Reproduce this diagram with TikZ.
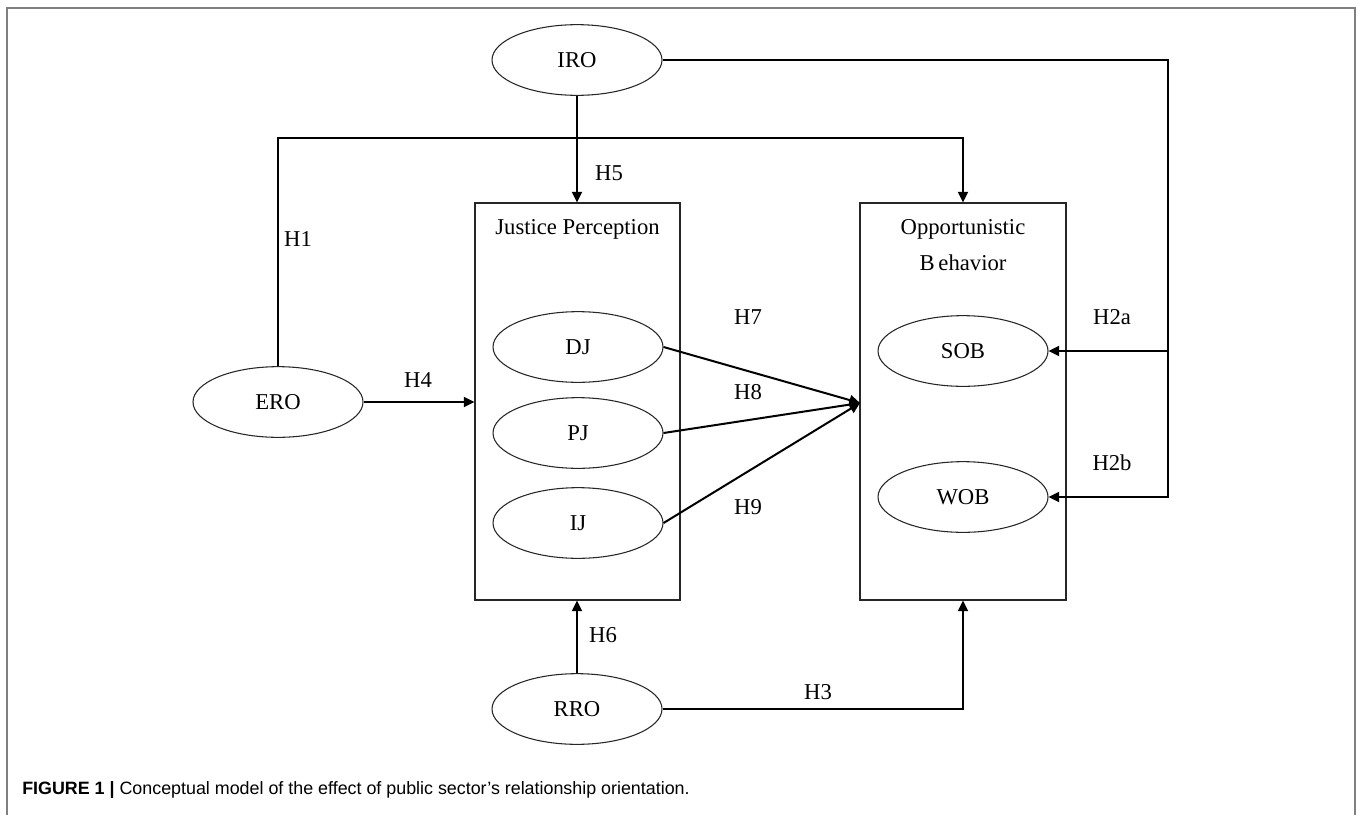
\documentclass[tikz,border=0pt]{standalone}
\usepackage{fontspec}
\setmainfont{Liberation Serif}
\newfontfamily\capfont{Liberation Sans}
\usetikzlibrary{shapes.geometric, arrows.meta, positioning, calc}

\tikzset{
  construct/.style={ellipse, draw=black!85, line width=0.8pt, minimum width=127.5pt, minimum height=53pt, inner sep=0pt, font=\fontsize{17}{20}\selectfont},
  groupbox/.style={rectangle, draw=black!85, line width=0.8pt, minimum height=297.75pt, inner sep=0pt},
  boxtitle/.style={align=center, inner sep=0pt, font=\fontsize{17}{27}\selectfont},
  hyp/.style={inner sep=0pt, font=\fontsize{17}{20}\selectfont},
  link/.style={line width=1.5pt},
  arr/.style={link, -{Triangle[length=8pt, width=7.5pt]}}
}

\begin{document}
\begin{tikzpicture}[x=0.75pt, y=-0.75pt]
  \useasboundingbox (0,0) rectangle (1358,814);

  % frame
  \draw[black!50, line width=1.2pt] (7,820) -- (7,8) -- (1355,8) -- (1355,820);

  % boxes
  \node[groupbox, minimum width=153.75pt] (jp) at (577.5,401.5) {};
  \node[boxtitle] (jptitle) at (577.5,229) {Justice Perception};
  \node[groupbox, minimum width=154.5pt] (ob) at (963,401.5) {};
  \node[boxtitle] (obtitle) at (963,245) {Opportunistic\\B\,ehavior};

  % constructs
  \node[construct] (iro) at (577,60) {IRO};
  \node[construct] (ero) at (278,402) {ERO};
  \node[construct] (rro) at (577,709) {RRO};
  \node[construct] (dj) at (578,347) {DJ};
  \node[construct] (pj) at (578,433) {PJ};
  \node[construct] (ij) at (578,523) {IJ};
  \node[construct] (sob) at (963,351) {SOB};
  \node[construct] (wob) at (963,497) {WOB};

  % turning points
  \coordinate (eroturn) at (278,138);
  \coordinate (rightbus) at (1168,497);
  \coordinate (join) at (860,403);

  % connectors
  \draw[arr] (iro.south) -- (iro.south |- jp.north);
  \draw[arr] (ero.north) -- (ero.north |- eroturn) -| (ob.north);
  \draw[arr] (iro.east) -| (rightbus) -- (wob.east);
  \draw[arr] (rightbus |- sob.east) -- (sob.east);
  \draw[arr] (ero.east) -- (ero.east -| jp.west);
  \draw[arr] (dj.east) -- (join);
  \draw[arr] (pj.east) -- (join);
  \draw[arr] (ij.east) -- (join);
  \draw[arr] (rro.north) -- (rro.north |- jp.south);
  \draw[arr] (rro.east) -| (ob.south);

  % hypothesis labels
  \node[hyp] (h1) at (298,239) {H1};
  \node[hyp] (h2a) at (1112,317) {H2a};
  \node[hyp] (h2b) at (1112,463) {H2b};
  \node[hyp] (h3) at (818,692) {H3};
  \node[hyp] (h4) at (418,380) {H4};
  \node[hyp] (h5) at (609,173) {H5};
  \node[hyp] (h6) at (603,635) {H6};
  \node[hyp] (h7) at (748,317) {H7};
  \node[hyp] (h8) at (748,392) {H8};
  \node[hyp] (h9) at (748,507) {H9};

  % caption
  \node[anchor=west, inner sep=0pt, font=\capfont\fontsize{13.4}{16}\selectfont] (caption) at (22,790)
    {\textbf{FIGURE 1 |} Conceptual model of the effect of public sector’s relationship orientation.};
\end{tikzpicture}
\end{document}
